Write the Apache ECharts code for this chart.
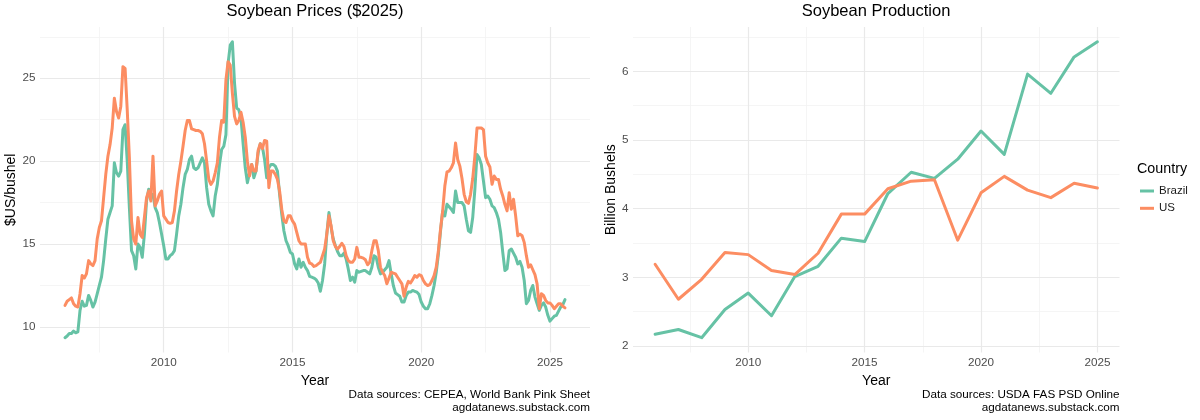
<!DOCTYPE html>
<html>
<head>
<meta charset="utf-8">
<title>Soybean prices and production</title>
<script src="https://cdn.jsdelivr.net/npm/echarts@6/dist/echarts.min.js"></script>
<style>
  html, body { margin: 0; padding: 0; background: #fff; }
  #main { width: 1200px; height: 420px; }
</style>
</head>
<body>
<div id="main"></div>
<script>
// monthly prices in $2025 per bushel, March 2006 .. August 2025
var priceStart = [2006, 3];
var brazilPrice = [
  9.35, 9.45, 9.6, 9.6, 9.75, 9.65, 9.7, 11.0, 11.55, 11.25,
  11.3, 11.9, 11.6, 11.2, 11.5, 12.0, 12.5, 13.0, 14.0, 15.3, 16.5, 16.9,
  17.3, 19.9, 19.3, 19.1, 19.4, 21.9, 22.2, 20.0, 17.2, 14.6, 14.3, 13.5,
  15.0, 14.8, 14.2, 15.6, 17.6, 18.3, 17.8, 18.0, 17.2, 16.9, 16.3, 15.6,
  14.9, 14.1, 14.1, 14.3, 14.4, 14.6, 15.6, 16.7, 17.4, 18.4, 19.2, 19.5,
  20.1, 20.3, 19.6, 19.5, 19.6, 19.9, 20.2, 19.9, 18.4, 17.4, 17.0, 16.7,
  17.9, 18.6, 19.8, 20.7, 20.9, 21.6, 25.9, 27.0, 27.2, 24.7, 23.2, 23.1,
  22.6, 21.05, 19.6, 18.7, 19.3, 19.8, 19.0, 19.4, 20.5, 21.05, 20.85, 20.1,
  19.0, 19.6, 19.8, 19.8, 19.7, 19.4, 18.0, 16.8, 15.8, 15.2, 14.9, 14.5,
  14.4, 13.8, 13.5, 14.1, 13.6, 13.9, 13.6, 13.4, 13.05, 13.0, 12.95, 12.85,
  12.65, 12.15, 12.8, 13.8, 15.6, 16.9, 16.0, 15.3, 14.9, 14.55, 14.3, 14.3,
  14.45, 14.1, 13.5, 12.8, 13.0, 12.7, 13.4, 13.3, 13.35, 13.4, 13.4, 13.3,
  13.2, 13.6, 14.3, 14.2, 13.6, 13.2, 13.3, 13.45, 13.6, 14.0, 13.2, 12.5,
  12.05, 11.95, 11.85, 11.5, 11.5, 11.9, 12.1, 12.1, 12.2, 12.15, 12.1, 11.95,
  11.5, 11.25, 11.1, 11.1, 11.4, 11.9, 12.5, 13.3, 14.4, 15.8, 17.0, 16.7,
  17.4, 17.25, 17.1, 16.9, 18.2, 17.5, 17.5, 17.5, 17.3, 16.5, 15.8, 15.7,
  16.6, 18.3, 20.4, 20.2, 19.8, 18.8, 17.8, 17.9, 17.7, 17.3, 17.2, 16.9,
  16.5, 15.7, 14.5, 13.4, 13.5, 14.6, 14.7, 14.45, 14.2, 13.8, 13.95, 13.6,
  12.8, 11.4, 11.6, 12.2, 12.5, 11.8, 11.4, 11.0, 11.3, 11.45, 11.2, 10.7,
  10.35, 10.5, 10.65, 10.7, 10.95, 11.2, 11.35, 11.65
];
var usPrice = [
  11.3, 11.55, 11.65, 11.75, 11.4, 11.25, 11.2, 12.0, 13.1, 12.95,
  13.2, 14.0, 13.8, 13.7, 14.0, 15.3, 16.0, 16.4, 17.8, 19.2, 20.3, 21.0,
  22.0, 23.8, 23.0, 22.6, 23.3, 25.7, 25.6, 23.1, 20.2, 16.4, 15.3, 15.0,
  16.6, 15.6, 15.4, 16.6, 17.8, 18.2, 17.6, 20.3, 17.3, 17.6, 18.0, 18.2,
  16.7, 16.5, 16.3, 16.25, 16.3, 17.0, 18.2, 19.2, 20.0, 20.9, 21.85, 22.45,
  22.45, 21.95, 21.9, 21.85, 21.85, 21.8, 21.65, 21.05, 20.0, 18.9, 18.6, 18.8,
  19.3, 19.9, 21.45, 22.45, 22.35, 24.9, 26.0, 25.8, 24.1, 22.7, 22.25, 22.45,
  22.95, 22.35, 21.45, 20.0, 19.1, 19.8, 19.4, 19.4, 20.65, 21.05, 20.75, 21.25,
  21.2, 18.4, 19.4, 19.4, 19.2, 18.9, 18.2, 17.1, 16.4, 16.3, 16.7, 16.7,
  16.4, 16.2, 15.7, 15.2, 15.0, 15.0, 15.0, 14.2, 13.85, 13.8, 13.65, 13.7,
  13.8, 13.9, 14.3, 14.7, 15.6, 16.7, 16.1, 15.2, 14.85, 14.7, 14.85, 15.05,
  14.85, 14.3, 14.0, 13.9, 13.9, 14.1, 14.8, 14.2, 14.2, 14.15, 14.05, 13.75,
  13.9, 14.6, 15.2, 15.2, 14.6, 13.6, 13.3, 13.1, 12.6, 12.95, 13.3, 13.25,
  13.2, 13.0, 12.8, 12.6, 11.85, 12.4, 12.75, 12.65, 12.85, 13.1, 13.0, 13.15,
  13.1, 12.8, 12.6, 12.5, 12.55, 12.8, 13.1, 13.6, 14.6, 15.9, 17.0, 18.5,
  19.35, 19.4, 19.6, 19.9, 21.1, 20.1, 19.7, 18.95, 18.0, 17.55, 17.45, 18.0,
  18.95, 20.3, 22.0, 22.0, 22.0, 21.9, 20.3, 19.9, 19.65, 18.6, 19.1, 18.9,
  18.9, 18.3, 17.9, 17.4, 17.0, 18.1, 17.1, 17.7, 16.7, 15.5, 15.6, 15.5,
  15.1, 14.3, 13.6, 13.75, 13.45, 13.15, 12.6, 11.1, 12.0, 11.9, 11.6, 11.45,
  11.45, 11.3, 11.1, 11.25, 11.4, 11.4, 11.25, 11.15
];

// yearly production, billion bushels
var prodYears = [2006, 2007, 2008, 2009, 2010, 2011, 2012, 2013, 2014, 2015,
                 2016, 2017, 2018, 2019, 2020, 2021, 2022, 2023, 2024, 2025];
var brazilProd = [2.17, 2.24, 2.12, 2.53, 2.77, 2.44, 3.01, 3.16, 3.57, 3.52,
                  4.22, 4.53, 4.44, 4.72, 5.13, 4.79, 5.96, 5.68, 6.21, 6.43];
var usProd = [3.19, 2.68, 2.97, 3.36, 3.33, 3.10, 3.04, 3.35, 3.92, 3.92,
              4.29, 4.40, 4.42, 3.54, 4.23, 4.47, 4.27, 4.16, 4.37, 4.30];

var yearTicks = [2010, 2015, 2020, 2025];
var yearMinor = [2007.5, 2012.5, 2017.5, 2022.5];
var priceTicks = [10, 15, 20, 25];
var priceMinor = [12.5, 17.5, 22.5, 27.5];
var prodTicks = [2, 3, 4, 5, 6];
var prodMinor = [2.5, 3.5, 4.5, 5.5, 6.5];

var GREEN = '#66C2A5';
var ORANGE = '#FC8D62';
var FONT = '"Liberation Sans", Arial, Helvetica, sans-serif';

function monthX(i) {
    return priceStart[0] + (priceStart[1] - 1 + i) / 12;
}

// ggplot style 5% padding around the data
function padRange(lists) {
    var all = [].concat.apply([], lists);
    var lo = Math.min.apply(null, all), hi = Math.max.apply(null, all);
    var pad = (hi - lo) * 0.05;
    return { min: lo - pad, max: hi + pad };
}

var priceMonths = brazilPrice.map(function (v, i) { return monthX(i); });
var priceXR = padRange([priceMonths]);
var priceYR = padRange([brazilPrice, usPrice]);
var prodXR = padRange([prodYears]);
var prodYR = padRange([brazilProd, usProd]);

function pairs(xs, ys) {
    return ys.map(function (v, i) { return [xs[i], v]; });
}

function showIn(list) {
    return function (v) {
        for (var i = 0; i < list.length; i++) {
            if (Math.abs(list[i] - v) < 1e-6) return String(list[i]);
        }
        return '';
    };
}

var major = { color: '#e9e9e9', width: 1.2, type: 'solid' };
var minor = { color: '#f2f2f2', width: 0.8, type: 'solid' };

function gridLines(idx, xMaj, xMin, yMaj, yMin) {
    var data = [];
    xMin.forEach(function (v) { data.push({ xAxis: v, lineStyle: minor }); });
    yMin.forEach(function (v) { data.push({ yAxis: v, lineStyle: minor }); });
    xMaj.forEach(function (v) { data.push({ xAxis: v, lineStyle: major }); });
    yMaj.forEach(function (v) { data.push({ yAxis: v, lineStyle: major }); });
    return {
        name: 'grid' + idx,
        type: 'line',
        xAxisIndex: idx,
        yAxisIndex: idx,
        data: [],
        silent: true,
        z: 0,
        markLine: {
            silent: true,
            z: 0,
            symbol: ['none', 'none'],
            label: { show: false },
            emphasis: { disabled: true },
            animation: false,
            data: data
        }
    };
}

function lineSeries(name, idx, data, color) {
    return {
        name: name,
        type: 'line',
        xAxisIndex: idx,
        yAxisIndex: idx,
        data: data,
        showSymbol: false,
        symbol: 'none',
        z: 3,
        itemStyle: { color: color },
        lineStyle: { color: color, width: 3, join: 'round', cap: 'round' },
        emphasis: { disabled: true }
    };
}

function xAxisOpt(idx, range) {
    return {
        type: 'value', gridIndex: idx, min: range.min, max: range.max,
        name: 'Year', nameLocation: 'middle', nameGap: 16,
        nameTextStyle: { color: '#000', fontSize: 14, fontFamily: FONT },
        axisLine: { show: false }, axisTick: { show: false }, splitLine: { show: false },
        axisLabel: {
            customValues: yearTicks, formatter: showIn(yearTicks),
            color: '#4d4d4d', fontSize: 11.7, margin: 4.5, fontFamily: FONT
        }
    };
}

function yAxisOpt(idx, range, name, gap, ticks) {
    return {
        type: 'value', gridIndex: idx, min: range.min, max: range.max, splitNumber: 4,
        name: name, nameLocation: 'middle', nameGap: gap,
        nameTextStyle: { color: '#000', fontSize: 14, fontFamily: FONT },
        axisLine: { show: false }, axisTick: { show: false }, splitLine: { show: false },
        axisLabel: {
            customValues: ticks, formatter: showIn(ticks),
            color: '#4d4d4d', fontSize: 11.7, margin: 4.5, fontFamily: FONT
        }
    };
}

function label(text, x, y, size, align) {
    return {
        type: 'text', x: x, y: y, silent: true,
        style: {
            text: text, fill: '#000', fontSize: size, fontFamily: FONT,
            textAlign: align, textVerticalAlign: 'middle'
        }
    };
}

var chartDom = document.getElementById('main');
var myChart = echarts.init(chartDom, null, { renderer: 'canvas' });
var option;

option = {
    animation: false,
    backgroundColor: '#fff',
    grid: [
        { left: 40, top: 27, width: 550, height: 325.5, outerBoundsMode: 'none' },
        { left: 633, top: 27, width: 486.5, height: 325.5, outerBoundsMode: 'none' }
    ],
    xAxis: [xAxisOpt(0, priceXR), xAxisOpt(1, prodXR)],
    yAxis: [
        yAxisOpt(0, priceYR, '$US/bushel', 21, priceTicks),
        yAxisOpt(1, prodYR, 'Billion Bushels', 14.3, prodTicks)
    ],
    legend: {
        data: ['Brazil', 'US'],
        orient: 'vertical',
        left: 1140,
        top: 184,
        padding: 0,
        icon: 'rect',
        itemWidth: 14,
        itemHeight: 3,
        itemGap: 3.3,
        textStyle: { fontSize: 11.5, lineHeight: 14, color: '#1a1a1a', fontFamily: FONT }
    },
    graphic: [
        label('Soybean Prices ($2025)', 315, 11.4, 16.5, 'center'),
        label('Soybean Production', 876, 11.4, 16.5, 'center'),
        label('Data sources: CEPEA, World Bank Pink Sheet', 590, 395, 11.7, 'right'),
        label('agdatanews.substack.com', 590, 407.3, 11.7, 'right'),
        label('Data sources: USDA FAS PSD Online', 1119.5, 395, 11.7, 'right'),
        label('agdatanews.substack.com', 1119.5, 407.3, 11.7, 'right'),
        label('Country', 1137, 169.3, 14.3, 'left')
    ],
    series: [
        gridLines(0, yearTicks, yearMinor, priceTicks, priceMinor),
        gridLines(1, yearTicks, yearMinor, prodTicks, prodMinor),
        lineSeries('Brazil', 0, pairs(priceMonths, brazilPrice), GREEN),
        lineSeries('US', 0, pairs(priceMonths, usPrice), ORANGE),
        lineSeries('Brazil', 1, pairs(prodYears, brazilProd), GREEN),
        lineSeries('US', 1, pairs(prodYears, usProd), ORANGE)
    ]
};

option && myChart.setOption(option);
</script>
</body>
</html>
